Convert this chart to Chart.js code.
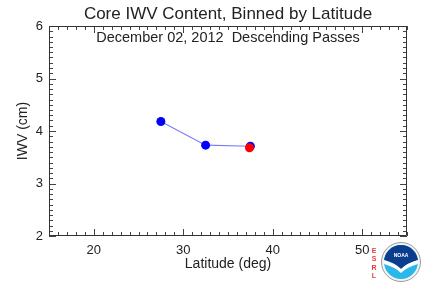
<!DOCTYPE html>
<html><head><meta charset="utf-8">
<script src="https://cdn.jsdelivr.net/npm/chart.js@4/dist/chart.umd.min.js"></script>
<style>html,body{margin:0;padding:0;background:#fff}canvas{display:block}</style>
</head><body>
<canvas id="c" width="422" height="284" style="width:422px;height:284px"></canvas>
<script>
const latitudes = [27.5, 32.5, 37.5];
const iwvValues = [4.18, 3.73, 3.71];
const redLatitudes = [37.4];
const redIwvValues = [3.68];
const xTickValues = [20, 30, 40, 50];
const yTickValues = [2, 3, 4, 5, 6];
const titleText = 'Core IWV Content, Binned by Latitude';
const subtitleText = 'December 02, 2012  Descending Passes';

const FONT = 'Liberation Sans, Arial, Helvetica, sans-serif';

const decor = {
  id: 'decor',
  beforeDatasetsDraw(chart) {
    const {ctx, chartArea: a} = chart;
    ctx.save();
    ctx.fillStyle = '#222';
    ctx.textAlign = 'center';
    ctx.textBaseline = 'middle';
    ctx.font = '17px ' + FONT;
    ctx.fillText(titleText, (a.left + a.right) / 2, 14);
    ctx.font = '14.5px ' + FONT;
    ctx.fillText(subtitleText, (a.left + a.right) / 2, a.top + 12);
    ctx.restore();
  },
  afterDraw(chart) {
    const {ctx, chartArea: a, scales: {x, y}} = chart;
    ctx.save();
    ctx.strokeStyle = '#444';
    ctx.lineWidth = 1;
    ctx.beginPath();
    for (let v = 15; v <= 55; v += 1) {
      const px = Math.round(x.getPixelForValue(v)) + 0.5;
      const len = xTickValues.includes(v) ? 7 : 4;
      ctx.moveTo(px, a.bottom); ctx.lineTo(px, a.bottom - len);
      ctx.moveTo(px, a.top); ctx.lineTo(px, a.top + len);
    }
    for (let i = 20; i <= 60; i++) {
      const py = Math.round(y.getPixelForValue(i / 10)) + 0.5;
      const len = (i % 10 === 0) ? 7 : 4;
      ctx.moveTo(a.left, py); ctx.lineTo(a.left + len, py);
      ctx.moveTo(a.right, py); ctx.lineTo(a.right - len, py);
    }
    ctx.stroke();
    ctx.beginPath();
    ctx.strokeStyle = '#333';
    ctx.rect(Math.round(a.left) + 0.5, Math.round(a.top) + 0.5,
      Math.round(a.right - a.left) - 1, Math.round(a.bottom - a.top) - 1);
    ctx.stroke();

    // white patch behind ESRL
    ctx.fillStyle = '#fff';
    ctx.fillRect(369, 242, 11, 40);
    ctx.fillStyle = '#e83a3a';
    ctx.font = 'bold 7px ' + FONT;
    ctx.textAlign = 'center';
    ctx.textBaseline = 'middle';
    ['E', 'S', 'R', 'L'].forEach((ch, i) => ctx.fillText(ch, 374, 251 + i * 8.5));
    // NOAA logo
    const cx = 401, cy = 262, r = 19.5;
    ctx.beginPath(); ctx.arc(cx, cy, r, 0, Math.PI * 2);
    ctx.fillStyle = '#f4f4f4'; ctx.fill();
    ctx.strokeStyle = '#9a9a9a'; ctx.lineWidth = 1; ctx.stroke();
    const ri = 17;
    ctx.save();
    ctx.beginPath(); ctx.arc(cx, cy, ri, 0, Math.PI * 2); ctx.clip();
    ctx.fillStyle = '#2ab7ea';
    ctx.fillRect(cx - ri, cy - ri, ri * 2, ri * 2);
    ctx.fillStyle = '#0b3d8f';
    ctx.beginPath();
    ctx.moveTo(cx - ri, cy - ri);
    ctx.lineTo(cx + ri, cy - ri);
    ctx.lineTo(cx + ri, cy - 2);
    ctx.quadraticCurveTo(cx + 6, cy + 1, cx, cy + 7);
    ctx.quadraticCurveTo(cx - 6, cy + 1, cx - ri, cy - 2);
    ctx.closePath(); ctx.fill();
    ctx.fillStyle = '#ffffff';
    ctx.beginPath();
    ctx.moveTo(cx - ri, cy - 2);
    ctx.quadraticCurveTo(cx - 6, cy + 1, cx, cy + 7);
    ctx.quadraticCurveTo(cx + 6, cy + 1, cx + ri, cy - 2);
    ctx.lineTo(cx + ri, cy + 2);
    ctx.quadraticCurveTo(cx + 6, cy + 5, cx, cy + 11);
    ctx.quadraticCurveTo(cx - 6, cy + 5, cx - ri, cy + 2);
    ctx.closePath(); ctx.fill();
    ctx.restore();
    ctx.fillStyle = '#fff';
    ctx.font = 'bold 5px ' + FONT;
    ctx.textAlign = 'center';
    ctx.fillText('NOAA', cx, cy - 6);
    ctx.restore();
  }
};

new Chart(document.getElementById('c'), {
  type: 'scatter',
  data: {
    datasets: [
      {
        data: redLatitudes.map((v, i) => ({x: v, y: redIwvValues[i]})),
        showLine: false,
        pointRadius: 4.5,
        pointBackgroundColor: '#ff0000',
        pointBorderColor: '#ff0000',
        pointBorderWidth: 0,
        order: 0
      },
      {
        data: latitudes.map((v, i) => ({x: v, y: iwvValues[i]})),
        showLine: true,
        borderColor: '#7b7bff',
        borderWidth: 1.2,
        pointRadius: 4.5,
        pointBackgroundColor: '#0000ff',
        pointBorderColor: '#0000ff',
        pointBorderWidth: 0,
        order: 1
      }
    ]
  },
  options: {
    responsive: false,
    animation: false,
    layout: {padding: {left: 0, right: 15, top: 26, bottom: 0}},
    plugins: {
      legend: {display: false},
      tooltip: {enabled: false},
      title: {display: false}
    },
    scales: {
      x: {
        type: 'linear',
        min: 15, max: 55,
        afterBuildTicks: s => { s.ticks = xTickValues.map(v => ({value: v})); },
        afterFit: s => { s.height = 48; },
        grid: {display: false, drawTicks: false, tickLength: 0},
        border: {display: false},
        ticks: {color: '#222', font: {family: FONT, size: 13}, padding: 7, maxRotation: 0},
        title: {display: true, text: 'Latitude (deg)', color: '#222',
          font: {family: FONT, size: 14}, padding: {top: 0, bottom: 11}}
      },
      y: {
        type: 'linear',
        min: 2, max: 6,
        afterBuildTicks: s => { s.ticks = yTickValues.map(v => ({value: v})); },
        afterFit: s => { s.width = 49; },
        grid: {display: false, drawTicks: false, tickLength: 0},
        border: {display: false},
        ticks: {color: '#222', font: {family: FONT, size: 13}, padding: 6},
        title: {display: true, text: 'IWV (cm)', color: '#222',
          font: {family: FONT, size: 14}, padding: {top: 15, bottom: 0}}
      }
    }
  },
  plugins: [decor]
});
</script>
</body></html>
